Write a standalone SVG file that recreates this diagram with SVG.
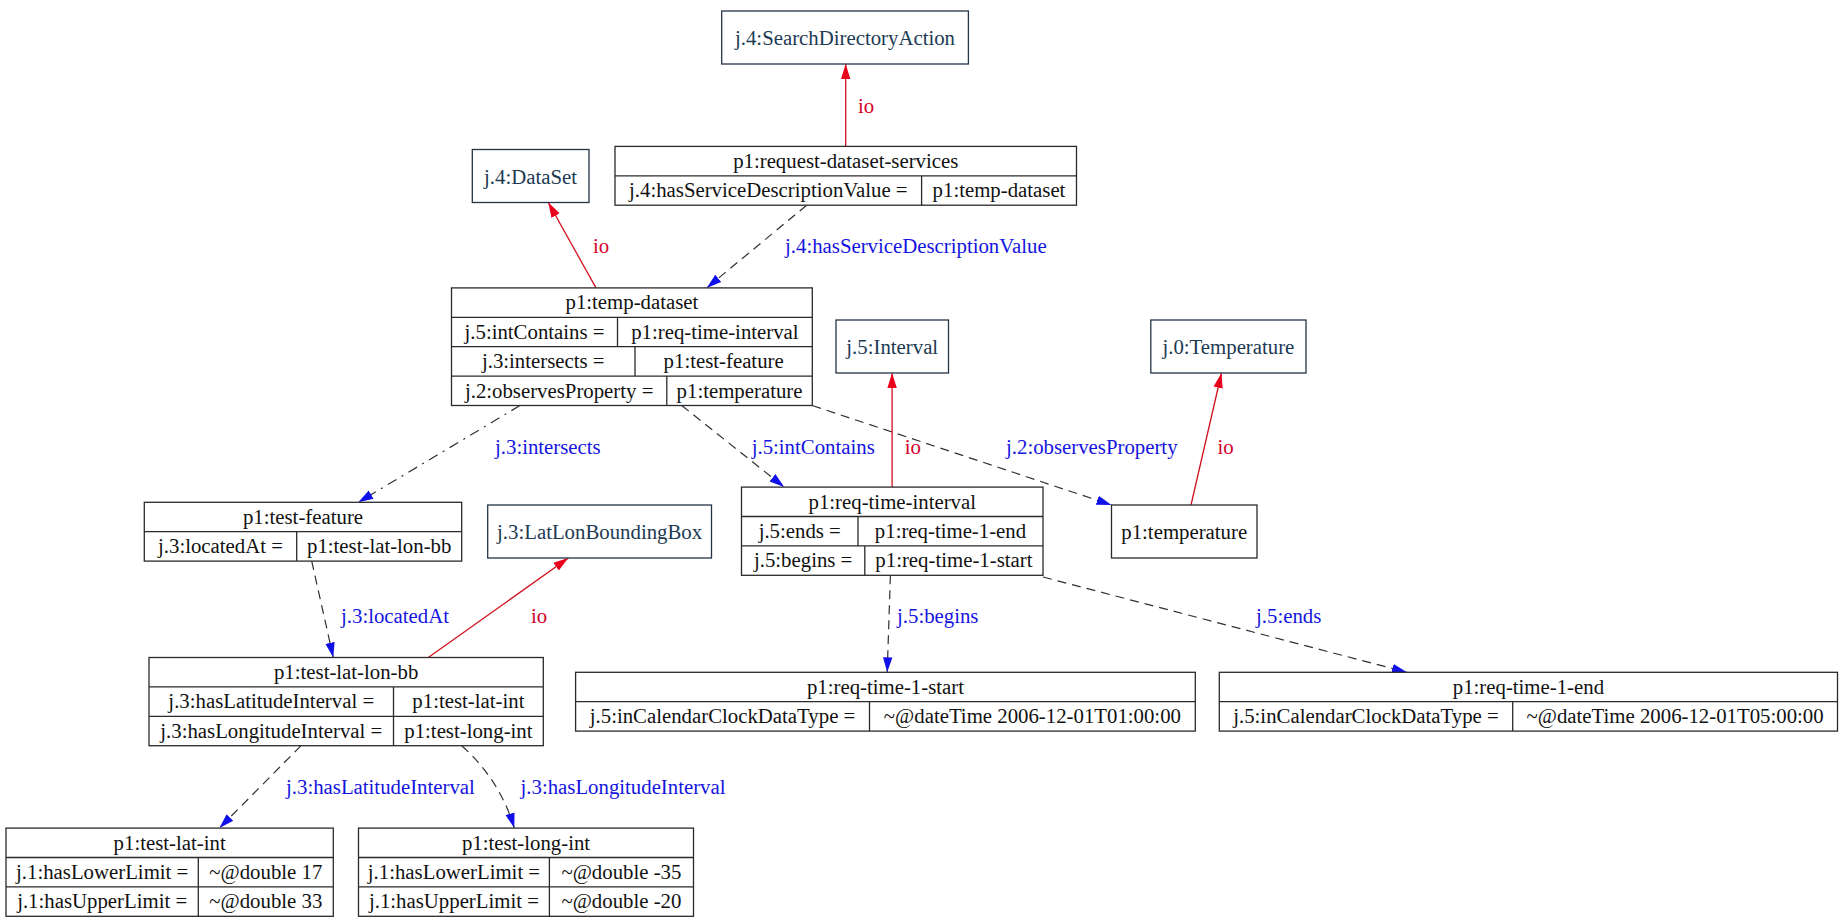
<svg xmlns="http://www.w3.org/2000/svg" width="1843" height="921" viewBox="0 0 1843 921">
  <style>
    text { font-family: "Liberation Serif", "Times New Roman", serif; font-size: 20.8px; text-anchor: middle; }
    .rec { fill: #ffffff; stroke: #2a2a2a; stroke-width: 1.3; }
    .div { stroke: #2a2a2a; stroke-width: 1.3; fill: none; }
    .cls { fill: #ffffff; stroke: #243447; stroke-width: 1.3; }
    .ct { fill: #1c3a52; }
    .rt { fill: #111111; }
    .dash { fill: none; stroke: #303030; stroke-width: 1.2; stroke-dasharray: 9 6; }
    .dashdot { fill: none; stroke: #303030; stroke-width: 1.2; stroke-dasharray: 10 6 2 6; }
    .io { fill: none; stroke: #d0101e; stroke-width: 1.3; }
    .lb { fill: #1414e0; text-anchor: start; }
    .li { fill: #d4002a; text-anchor: start; }
  </style>
  <defs>
    <marker id="arrB" markerUnits="userSpaceOnUse" markerWidth="16" markerHeight="12" viewBox="0 0 16 12" refX="15" refY="6" orient="auto">
      <path d="M0,1.3 L15,6 L0,10.7 z" fill="#1010e8"/>
    </marker>
    <marker id="arrR" markerUnits="userSpaceOnUse" markerWidth="16" markerHeight="12" viewBox="0 0 16 12" refX="15" refY="6" orient="auto">
      <path d="M0,1.3 L15,6 L0,10.7 z" fill="#e8001c"/>
    </marker>
  </defs>

  <rect x="0" y="0" width="1843" height="921" fill="#ffffff"/>

  <!-- connectors -->
  <g id="edges">
    <path class="io" d="M845.7,146.4 L845.7,64" marker-end="url(#arrR)"/>
    <text class="li" x="858" y="113">io</text>

    <path class="io" d="M596,287.9 L548.3,202.5" marker-end="url(#arrR)"/>
    <text class="li" x="593" y="253">io</text>

    <path class="dash" d="M806.7,205.2 L706.7,287.9" marker-end="url(#arrB)"/>
    <text class="lb" x="785" y="253">j.4:hasServiceDescriptionValue</text>

    <path class="dashdot" d="M520,405.5 L358.3,502.3" marker-end="url(#arrB)"/>
    <text class="lb" x="495" y="454">j.3:intersects</text>

    <path class="dash" d="M681.7,405.5 L784.2,487.1" marker-end="url(#arrB)"/>
    <text class="lb" x="751.7" y="454">j.5:intContains</text>

    <path class="dash" d="M812.3,405.5 L1111.5,505" marker-end="url(#arrB)"/>
    <text class="lb" x="1006" y="454">j.2:observesProperty</text>

    <path class="io" d="M892.1,487.1 L892.1,373" marker-end="url(#arrR)"/>
    <text class="li" x="904.7" y="454">io</text>

    <path class="io" d="M1191,505 L1221.5,373" marker-end="url(#arrR)"/>
    <text class="li" x="1217.5" y="454">io</text>

    <path class="dash" d="M311.7,561.1 L333.3,657.5" marker-end="url(#arrB)"/>
    <text class="lb" x="341" y="623">j.3:locatedAt</text>

    <path class="io" d="M428.3,657.5 L568.3,558" marker-end="url(#arrR)"/>
    <text class="li" x="531" y="623">io</text>

    <path class="dash" d="M890.4,575.3 L887.2,672.3" marker-end="url(#arrB)"/>
    <text class="lb" x="897" y="623">j.5:begins</text>

    <path class="dash" d="M1043,577 L1407,672.3" marker-end="url(#arrB)"/>
    <text class="lb" x="1256" y="623">j.5:ends</text>

    <path class="dash" d="M301,745.7 L219.4,828.1" marker-end="url(#arrB)"/>
    <text class="lb" x="286" y="794">j.3:hasLatitudeInterval</text>

    <path class="dash" d="M461.7,745.7 Q500,780 514.3,828.1" marker-end="url(#arrB)"/>
    <text class="lb" x="520.5" y="794">j.3:hasLongitudeInterval</text>
  </g>

  <!-- class nodes -->
  <g id="n-search-directory-action">
    <rect class="cls" x="721.7" y="11" width="246.7" height="53"/>
    <text class="ct" x="845" y="45">j.4:SearchDirectoryAction</text>
  </g>
  <g id="n-dataset">
    <rect class="cls" x="472.3" y="149.5" width="116.7" height="53"/>
    <text class="ct" x="530.6" y="183.5">j.4:DataSet</text>
  </g>
  <g id="n-interval">
    <rect class="cls" x="836" y="320" width="112.5" height="53"/>
    <text class="ct" x="892.25" y="354">j.5:Interval</text>
  </g>
  <g id="n-temperature-class">
    <rect class="cls" x="1150.8" y="320" width="155.2" height="53"/>
    <text class="ct" x="1228.4" y="354">j.0:Temperature</text>
  </g>
  <g id="n-latlon-bbox">
    <rect class="cls" x="487.7" y="505" width="223.8" height="53"/>
    <text class="ct" x="599.6" y="539">j.3:LatLonBoundingBox</text>
  </g>

  <!-- record nodes -->
  <g id="n-request-dataset-services">
    <rect class="rec" x="615" y="146.4" width="461.5" height="58.8"/>
    <path class="div" d="M615,175.8 H1076.5 M921.6,175.8 V205.2"/>
    <text class="rt" x="845.75" y="167.9">p1:request-dataset-services</text>
    <text class="rt" x="768.3" y="197.3">j.4:hasServiceDescriptionValue =</text>
    <text class="rt" x="999" y="197.3">p1:temp-dataset</text>
  </g>

  <g id="n-temp-dataset">
    <rect class="rec" x="451.5" y="287.9" width="360.8" height="117.6"/>
    <path class="div" d="M451.5,317.3 H812.3 M451.5,346.7 H812.3 M451.5,376.1 H812.3 M617.5,317.3 V346.7 M635,346.7 V376.1 M666.8,376.1 V405.5"/>
    <text class="rt" x="631.9" y="309.4">p1:temp-dataset</text>
    <text class="rt" x="534.5" y="338.8">j.5:intContains =</text>
    <text class="rt" x="714.9" y="338.8">p1:req-time-interval</text>
    <text class="rt" x="543.25" y="368.2">j.3:intersects =</text>
    <text class="rt" x="723.65" y="368.2">p1:test-feature</text>
    <text class="rt" x="559.15" y="397.6">j.2:observesProperty =</text>
    <text class="rt" x="739.55" y="397.6">p1:temperature</text>
  </g>

  <g id="n-test-feature">
    <rect class="rec" x="144.3" y="502.3" width="317.4" height="58.8"/>
    <path class="div" d="M144.3,531.7 H461.7 M296.7,531.7 V561.1"/>
    <text class="rt" x="303" y="523.8">p1:test-feature</text>
    <text class="rt" x="220.5" y="553.2">j.3:locatedAt =</text>
    <text class="rt" x="379.2" y="553.2">p1:test-lat-lon-bb</text>
  </g>

  <g id="n-req-time-interval">
    <rect class="rec" x="741.5" y="487.1" width="301.5" height="88.2"/>
    <path class="div" d="M741.5,516.5 H1043 M741.5,545.9 H1043 M858,516.5 V545.9 M864.8,545.9 V575.3"/>
    <text class="rt" x="892.25" y="508.6">p1:req-time-interval</text>
    <text class="rt" x="799.75" y="538">j.5:ends =</text>
    <text class="rt" x="950.5" y="538">p1:req-time-1-end</text>
    <text class="rt" x="803.15" y="567.4">j.5:begins =</text>
    <text class="rt" x="953.9" y="567.4">p1:req-time-1-start</text>
  </g>

  <g id="n-temperature">
    <rect class="rec" x="1111.5" y="505" width="145.5" height="53"/>
    <text class="rt" x="1184.25" y="539">p1:temperature</text>
  </g>

  <g id="n-test-lat-lon-bb">
    <rect class="rec" x="149" y="657.5" width="394.3" height="88.2"/>
    <path class="div" d="M149,686.9 H543.3 M149,716.3 H543.3 M393.5,686.9 V745.7"/>
    <text class="rt" x="346.15" y="679">p1:test-lat-lon-bb</text>
    <text class="rt" x="271.25" y="708.4">j.3:hasLatitudeInterval =</text>
    <text class="rt" x="468.4" y="708.4">p1:test-lat-int</text>
    <text class="rt" x="271.25" y="737.8">j.3:hasLongitudeInterval =</text>
    <text class="rt" x="468.4" y="737.8">p1:test-long-int</text>
  </g>

  <g id="n-req-time-1-start">
    <rect class="rec" x="575.6" y="672.3" width="619.7" height="58.8"/>
    <path class="div" d="M575.6,701.7 H1195.3 M869.5,701.7 V731.1"/>
    <text class="rt" x="885.45" y="693.8">p1:req-time-1-start</text>
    <text class="rt" x="722.55" y="723.2">j.5:inCalendarClockDataType =</text>
    <text class="rt" x="1032.4" y="723.2">~@dateTime 2006-12-01T01:00:00</text>
  </g>

  <g id="n-req-time-1-end">
    <rect class="rec" x="1219.3" y="672.3" width="618.2" height="58.8"/>
    <path class="div" d="M1219.3,701.7 H1837.5 M1512.7,701.7 V731.1"/>
    <text class="rt" x="1528.4" y="693.8">p1:req-time-1-end</text>
    <text class="rt" x="1366" y="723.2">j.5:inCalendarClockDataType =</text>
    <text class="rt" x="1675.1" y="723.2">~@dateTime 2006-12-01T05:00:00</text>
  </g>

  <g id="n-test-lat-int">
    <rect class="rec" x="6" y="828.1" width="327.3" height="88.2"/>
    <path class="div" d="M6,857.5 H333.3 M6,886.9 H333.3 M198.3,857.5 V916.3"/>
    <text class="rt" x="169.65" y="849.6">p1:test-lat-int</text>
    <text class="rt" x="102.15" y="879">j.1:hasLowerLimit =</text>
    <text class="rt" x="265.8" y="879">~@double 17</text>
    <text class="rt" x="102.15" y="908.4">j.1:hasUpperLimit =</text>
    <text class="rt" x="265.8" y="908.4">~@double 33</text>
  </g>

  <g id="n-test-long-int">
    <rect class="rec" x="358.5" y="828.1" width="335" height="88.2"/>
    <path class="div" d="M358.5,857.5 H693.5 M358.5,886.9 H693.5 M549.4,857.5 V916.3"/>
    <text class="rt" x="526" y="849.6">p1:test-long-int</text>
    <text class="rt" x="453.95" y="879">j.1:hasLowerLimit =</text>
    <text class="rt" x="621.45" y="879">~@double -35</text>
    <text class="rt" x="453.95" y="908.4">j.1:hasUpperLimit =</text>
    <text class="rt" x="621.45" y="908.4">~@double -20</text>
  </g>
</svg>
